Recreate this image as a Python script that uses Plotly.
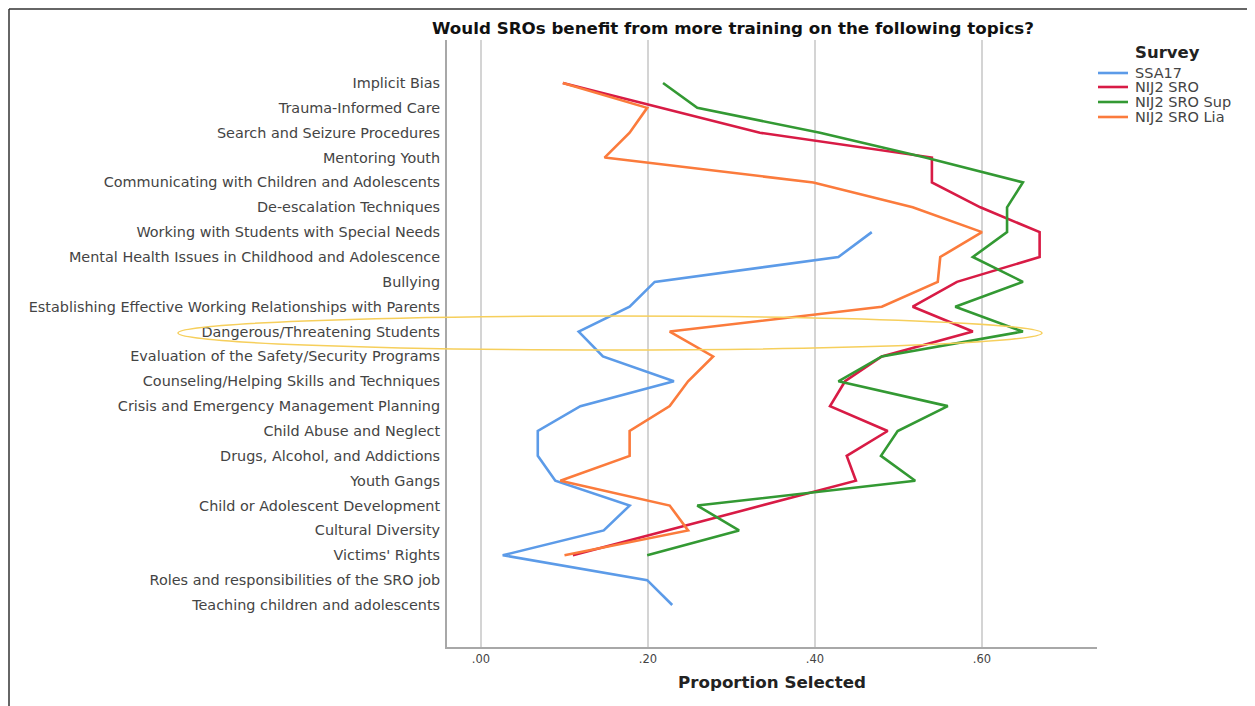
import plotly.graph_objects as go

categories = [
    "Implicit Bias",
    "Trauma-Informed Care",
    "Search and Seizure Procedures",
    "Mentoring Youth",
    "Communicating with Children and Adolescents",
    "De-escalation Techniques",
    "Working with Students with Special Needs",
    "Mental Health Issues in Childhood and Adolescence",
    "Bullying",
    "Establishing Effective Working Relationships with Parents",
    "Dangerous/Threatening Students",
    "Evaluation of the Safety/Security Programs",
    "Counseling/Helping Skills and Techniques",
    "Crisis and Emergency Management Planning",
    "Child Abuse and Neglect",
    "Drugs, Alcohol, and Addictions",
    "Youth Gangs",
    "Child or Adolescent Development",
    "Cultural Diversity",
    "Victims' Rights",
    "Roles and responsibilities of the SRO job",
    "Teaching children and adolescents",
]

ssa17 = [None, None, None, None, None, None, 0.468, 0.428, 0.208, 0.178, 0.117,
         0.146, 0.231, 0.119, 0.068, 0.068, 0.089, 0.178, 0.147, 0.026, 0.199, 0.229]
nij2_sro = [0.098, 0.216, 0.334, 0.540, 0.540, 0.598, 0.669, 0.669, 0.570, 0.517, 0.589,
            0.480, 0.436, 0.418, 0.487, 0.438, 0.449, 0.336, 0.223, 0.110, None, None]
nij2_sro_sup = [0.218, 0.259, 0.406, 0.532, 0.649, 0.630, 0.630, 0.589, 0.649, 0.568, 0.649,
                0.480, 0.428, 0.559, 0.499, 0.479, 0.520, 0.259, 0.309, 0.199, None, None]
nij2_sro_lia = [0.098, 0.199, 0.178, 0.148, 0.398, 0.517, 0.600, 0.550, 0.547, 0.480, 0.226,
                0.278, 0.248, 0.226, 0.178, 0.178, 0.095, 0.226, 0.248, 0.100, None, None]

series_names = ["SSA17", "NIJ2 SRO", "NIJ2 SRO Sup", "NIJ2 SRO Lia"]
series_values = [ssa17, nij2_sro, nij2_sro_sup, nij2_sro_lia]
series_colors = ["#5c9be8", "#d81b45", "#339933", "#fb7b3c"]

x_tickvals = [0.0, 0.2, 0.4, 0.6]
x_ticktext = [".00", ".20", ".40", ".60"]

FONT = "DejaVu Sans, Verdana, sans-serif"

# page body has an 8px margin; screen coordinates below are converted
OFF = 8
W, H = 1255 - OFF, 706 - OFF
L, R, T, B = 447, 1097, 40, 647          # plot area in screen pixels


def px(x):
    return (x - L) / (R - L)


def py(y):
    return (B - y) / (B - T)


fig = go.Figure()
ypos = list(range(len(categories)))
for name, vals, col in zip(series_names, series_values, series_colors):
    fig.add_trace(go.Scatter(
        x=vals, y=ypos, mode="lines", name=name, showlegend=False,
        line=dict(color=col, width=2.6), connectgaps=False,
    ))

fig.update_layout(
    width=W, height=H,
    margin=dict(l=L - OFF, r=W - (R - OFF), t=T - OFF, b=H - (B - OFF), pad=0),
    paper_bgcolor="white", plot_bgcolor="white",
    font=dict(family=FONT, color="#333333"),
    showlegend=False,
    xaxis=dict(
        range=[(L - 481) / 835, (R - 481) / 835],
        tickvals=x_tickvals, ticktext=x_ticktext,
        showgrid=True, gridcolor="#d4d4d4", gridwidth=1.5,
        zeroline=False, showline=True, linecolor="#a8a8a8", linewidth=2,
        ticks="", tickfont=dict(size=11.5, color="#444444"),
        title=dict(text="<b>Proportion Selected</b>", font=dict(size=16.7, color="#222222"), standoff=12),
    ),
    yaxis=dict(
        range=[21 + 1.69, -1.73],
        tickvals=ypos, ticktext=categories,
        showgrid=False, zeroline=False, showline=True, linecolor="#a8a8a8", linewidth=2,
        ticks="", ticklabelstandoff=2, tickfont=dict(size=14.4, color="#444444"),
    ),
)

fig.add_annotation(
    text="<b>Would SROs benefit from more training on the following topics?</b>",
    xref="paper", yref="paper", x=px(733), y=py(28), xanchor="center", yanchor="middle",
    showarrow=False, font=dict(size=16.7, color="#111111"),
)

# legend drawn manually to match the reference spacing
fig.add_annotation(
    text="<b>Survey</b>", xref="paper", yref="paper", x=px(1167), y=py(53),
    xanchor="center", yanchor="middle", showarrow=False,
    font=dict(size=16.5, color="#222222"),
)
legend_rows = [73, 87, 102, 117]
for name, col, ry in zip(series_names, series_colors, legend_rows):
    fig.add_shape(type="line", xref="paper", yref="paper",
                  x0=px(1098), x1=px(1128), y0=py(ry), y1=py(ry),
                  line=dict(color=col, width=2.6))
    fig.add_annotation(text=name, xref="paper", yref="paper", x=px(1133), y=py(ry),
                       xanchor="left", yanchor="middle", showarrow=False,
                       font=dict(size=14.5, color="#444444"))

# highlight ellipse around "Dangerous/Threatening Students"
fig.add_shape(type="circle", xref="paper", yref="paper",
              x0=px(178), x1=px(1042), y0=py(350), y1=py(316),
              line=dict(color="#f6cf5c", width=1.5), layer="above")

# image frame lines (top and left)
fig.add_shape(type="line", xref="paper", yref="paper",
              x0=px(9), x1=px(1262), y0=py(9), y1=py(9),
              line=dict(color="#333333", width=1.5))
fig.add_shape(type="line", xref="paper", yref="paper",
              x0=px(9), x1=px(9), y0=py(9), y1=py(720),
              line=dict(color="#333333", width=1.5))

fig.write_html("out.html")
